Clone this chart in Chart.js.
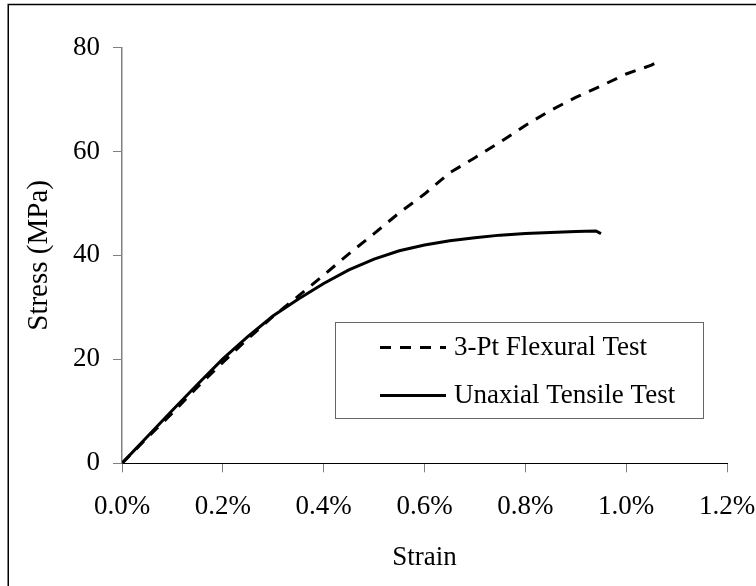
<!DOCTYPE html>
<html>
<head>
<meta charset="utf-8">
<script src="https://cdn.jsdelivr.net/npm/chart.js@4.4.1/dist/chart.umd.min.js"></script>
<style>
  html, body { margin: 0; padding: 0; background: #fff; }
</style>
</head>
<body>
<canvas id="grafico" width="756" height="586"></canvas>
<script>
// Ensayo de flexión en 3 puntos (deformación en %, esfuerzo en MPa)
const strainFlexural = [0, 0.05, 0.10, 0.15, 0.20, 0.25, 0.30, 0.35, 0.40, 0.45, 0.50, 0.55, 0.60, 0.65, 0.70, 0.75, 0.80, 0.85, 0.90, 0.95, 1.00, 1.05, 1.07]
const stressFlexural = [0, 4.9, 9.7, 14.7, 19.4, 24.0, 28.3, 32.2, 36.2, 40.3, 44.2, 48.2, 51.8, 55.9, 58.8, 61.8, 65.0, 67.9, 70.4, 72.6, 74.9, 76.6, 77.6]

// Ensayo de tracción uniaxial
const strainTensile = [0, 0.05, 0.10, 0.15, 0.20, 0.25, 0.30, 0.35, 0.40, 0.45, 0.50, 0.55, 0.60, 0.65, 0.70, 0.75, 0.80, 0.85, 0.90, 0.94, 0.95]
const stressTensile = [0, 5.1, 10.2, 15.2, 20.1, 24.4, 28.4, 31.6, 34.6, 37.2, 39.3, 40.9, 42.0, 42.8, 43.4, 43.9, 44.2, 44.4, 44.6, 44.7, 44.2]

const seriesLabels = ['3-Pt Flexural Test', 'Unaxial Tensile Test']
const xTicks = [0, 0.2, 0.4, 0.6, 0.8, 1.0, 1.2]
const yTicks = [0, 20, 40, 60, 80]

const fuente = '"Liberation Serif", "Times New Roman", serif'

// marco exterior y leyenda dentro del área del gráfico
const marcoYLeyenda = {
    id: 'marcoYLeyenda',
    beforeDraw(chart) {
        const ctx = chart.ctx
        ctx.save()
        ctx.fillStyle = '#fff'
        ctx.fillRect(0, 0, chart.width, chart.height)
        ctx.strokeStyle = '#000'
        ctx.lineWidth = 1.5
        ctx.strokeRect(8.25, 4.5, chart.width + 20, chart.height + 20)
        ctx.restore()
    },
    afterDraw(chart) {
        const ctx = chart.ctx
        ctx.save()
        ctx.fillStyle = '#fff'
        ctx.fillRect(335, 322, 369, 97)
        ctx.strokeStyle = '#666'
        ctx.lineWidth = 1
        ctx.strokeRect(335.5, 322.5, 368, 96)
        chart.data.datasets.forEach((ds, i) => {
            const y = 347.5 + i * 48
            ctx.beginPath()
            ctx.setLineDash(ds.borderDash || [])
            ctx.lineWidth = ds.borderWidth
            ctx.strokeStyle = ds.borderColor
            ctx.moveTo(380, y)
            ctx.lineTo(446, y)
            ctx.stroke()
            ctx.setLineDash([])
            ctx.fillStyle = '#000'
            ctx.font = '27px ' + fuente
            ctx.textBaseline = 'middle'
            ctx.textAlign = 'left'
            ctx.fillText(ds.label, 454, y)
        })
        ctx.restore()
    }
}

const data = {
    datasets: [
        {
            label: seriesLabels[0],
            data: strainFlexural.map((x, i) => ({ x: x, y: stressFlexural[i] })),
            borderColor: '#000',
            borderWidth: 3,
            borderDash: [11, 9],
            pointRadius: 0,
            showLine: true,
            tension: 0,
            order: 1,
        },
        {
            label: seriesLabels[1],
            data: strainTensile.map((x, i) => ({ x: x, y: stressTensile[i] })),
            borderColor: '#000',
            borderWidth: 3,
            pointRadius: 0,
            showLine: true,
            tension: 0,
            order: 0,
        }
    ]
}

const config = {
    type: 'scatter',
    data: data,
    plugins: [marcoYLeyenda],
    options: {
        responsive: false,
        animation: false,
        devicePixelRatio: 1,
        layout: {
            padding: { left: 10, top: 47.5, right: 29, bottom: 0 }
        },
        plugins: {
            legend: { display: false },
            tooltip: { enabled: false },
        },
        scales: {
            x: {
                type: 'linear',
                min: 0,
                max: 1.2,
                afterBuildTicks: (scale) => { scale.ticks = xTicks.map(v => ({ value: v })) },
                afterFit: (scale) => {
                    scale.height = 122.7
                    scale.paddingLeft = 0
                    scale.paddingRight = 0
                },
                ticks: {
                    color: '#000',
                    font: { family: fuente, size: 27 },
                    padding: 18.5,
                    maxRotation: 0,
                    callback: (v) => v.toFixed(1) + '%',
                },
                grid: {
                    drawOnChartArea: false,
                    drawTicks: true,
                    tickLength: 9,
                    tickColor: '#808080',
                    tickWidth: 1,
                },
                border: { display: true, color: '#000', width: 1 },
                title: {
                    display: true,
                    text: 'Strain',
                    color: '#000',
                    font: { family: fuente, size: 27 },
                    padding: { top: 0, bottom: 11.8 },
                },
            },
            y: {
                type: 'linear',
                min: 0,
                max: 80,
                afterBuildTicks: (scale) => { scale.ticks = yTicks.map(v => ({ value: v })) },
                afterFit: (scale) => {
                    scale.width = 112
                    scale.paddingTop = 0
                    scale.paddingBottom = 0
                },
                ticks: {
                    color: '#000',
                    font: { family: fuente, size: 27 },
                    padding: 13,
                },
                grid: {
                    drawOnChartArea: false,
                    drawTicks: true,
                    tickLength: 9,
                    tickColor: '#808080',
                    tickWidth: 1,
                },
                border: { display: true, color: '#808080', width: 1.5 },
                title: {
                    display: true,
                    text: 'Stress (MPa)',
                    color: '#000',
                    font: { family: fuente, size: 29 },
                    padding: { top: 12, bottom: 0 },
                },
            },
        },
    },
}

const myChart = new Chart(document.querySelector('#grafico'), config)
</script>
</body>
</html>
